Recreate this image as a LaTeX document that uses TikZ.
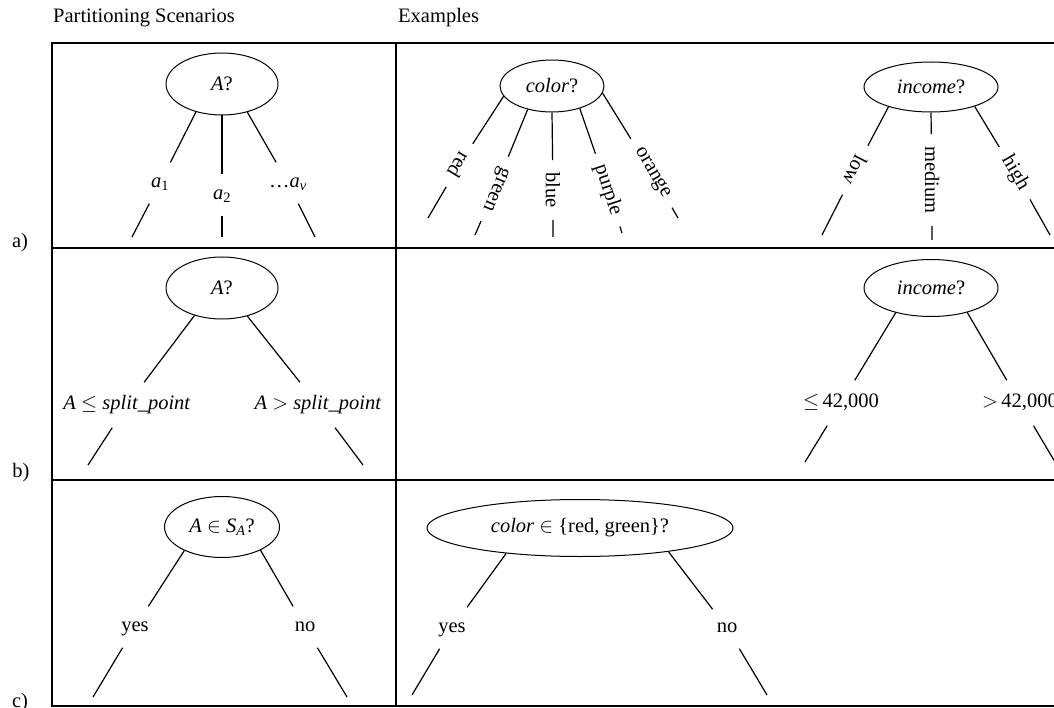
\documentclass[tikz,border=0pt]{standalone}
\usepackage{fontspec}
\setmainfont{Liberation Serif}
\usetikzlibrary{shapes.geometric}
\tikzset{
  test/.style={draw, ellipse, line width=1pt, inner sep=0pt},
  branch/.style={line width=1.2pt},
  lbl/.style={inner xsep=4pt, inner ysep=12pt, text height=13pt, text depth=4pt},
  rlbl/.style={inner xsep=12pt, inner ysep=2pt},
  grid/.style={line width=1.8pt},
}
\begin{document}
\begin{tikzpicture}[x=1pt,y=-1pt,font=\fontsize{20.5}{24}\selectfont]
\useasboundingbox (0,0) rectangle (1054,708);
\clip (0,0) rectangle (1054,708);

% table
\draw[grid] (52,43) rectangle (1075,706);
\draw[grid] (52,248) -- (1075,248);
\draw[grid] (52,480) -- (1075,480);
\draw[grid] (396,43) -- (396,706);

\node[anchor=west, inner sep=0pt] (hpart) at (53,18) {Partitioning Scenarios};
\node[anchor=west, inner sep=0pt] (hex) at (398,18) {Examples};
\node (ra) at (20,243) {a)};
\node (rb) at (21,473) {b)};
\node (rc) at (20,703) {c)};

% a) discrete
\node[test, minimum width=112pt, minimum height=62pt] (qa) at (222,84) {\textit{A}?};
\node[lbl] (la1) at (160,183) {\textit{a}\textsubscript{1}};
\node[lbl] (la2) at (222,195) {\textit{a}\textsubscript{2}};
\node[lbl] (lav) at (288,183) {\ldots\textit{a}\textsubscript{\textit{v}}};
\coordinate (ba1) at (132,237);
\coordinate (ba2) at (222,237);
\coordinate (bav) at (315,237);
\draw[branch] (qa.227) -- (la1) -- (ba1);
\draw[branch] (qa.270) -- (la2) -- (ba2);
\draw[branch] (qa.312) -- (lav) -- (bav);

\node[test, minimum width=104pt, minimum height=52pt] (qc) at (552,86) {\textit{color}?};
\node[rlbl, rotate=-121] (lred) at (459,165) {red};
\node[rlbl, rotate=-113] (lgreen) at (495,189) {green};
\node[rlbl, rotate=-90] (lblue) at (553,190) {blue};
\node[rlbl, rotate=-72] (lpurple) at (608,190) {purple};
\node[rlbl, rotate=-60] (lorange) at (652,173) {orange};
\coordinate (bred) at (428,218);
\coordinate (bgreen) at (475,235);
\coordinate (bblue) at (553,237);
\coordinate (bpurple) at (622,233);
\coordinate (borange) at (678,218);
\draw[branch] (qc.192) -- (lred) -- (bred);
\draw[branch] (qc.224) -- (lgreen) -- (bgreen);
\draw[branch] (qc.270) -- (lblue) -- (bblue);
\draw[branch] (qc.321) -- (lpurple) -- (bpurple);
\draw[branch] (qc.352) -- (lorange) -- (borange);

\node[test, minimum width=134pt, minimum height=50pt] (qi) at (931,87) {\textit{income}?};
\node[rlbl, rotate=-117] (llow) at (855,170) {low};
\node[rlbl, rotate=-90] (lmed) at (932,180) {medium};
\node[rlbl, rotate=-60] (lhigh) at (1015,173) {high};
\coordinate (blow) at (822,235);
\coordinate (bmed) at (932,240);
\coordinate (bhigh) at (1050,235);
\draw[branch] (qi.205) -- (llow) -- (blow);
\draw[branch] (qi.270) -- (lmed) -- (bmed);
\draw[branch] (qi.336) -- (lhigh) -- (bhigh);

% b) continuous
\node[test, minimum width=112pt, minimum height=62pt] (qb) at (222,288) {\textit{A}?};
\node[lbl, inner ysep=14pt] (lle) at (127,405) {\textit{A} $\leq$ \textit{split\_point}};
\node[lbl, inner ysep=14pt] (lgt) at (318,405) {\textit{A} $>$ \textit{split\_point}};
\coordinate (ble) at (88,465);
\coordinate (bgt) at (363,465);
\draw[branch] (qb.225) -- (lle) -- (ble);
\draw[branch] (qb.312) -- (lgt) -- (bgt);

\node[test, minimum width=134pt, minimum height=57pt] (qj) at (931,288) {\textit{income}?};
\node[lbl, inner ysep=14pt] (lj1) at (841,403) {$\leq$\,42,000};
\node[lbl, inner ysep=14pt] (lj2) at (1020,403) {$>$\,42,000};
\coordinate (bj1) at (805,462);
\coordinate (bj2) at (1058,467);
\draw[branch] (qj.215) -- (lj1) -- (bj1);
\draw[branch] (qj.326) -- (lj2) -- (bj2);

% c) binary
\node[test, minimum width=115pt, minimum height=61pt] (qs) at (222,527) {\textit{A} $\in$ \textit{S}\textsubscript{\textit{A}}?};
\node[lbl] (lsy) at (135,627) {yes};
\node[lbl] (lsn) at (305,627) {no};
\coordinate (bsy) at (93,697);
\coordinate (bsn) at (347,697);
\draw[branch] (qs.212) -- (lsy) -- (bsy);
\draw[branch] (qs.329) -- (lsn) -- (bsn);

\node[test, minimum width=306pt, minimum height=57pt] (qr) at (580,528) {\textit{color} $\in$ \{red, green\}?};
\node[lbl] (lry) at (452,628) {yes};
\node[lbl] (lrn) at (727,628) {no};
\coordinate (bry) at (412,695);
\coordinate (brn) at (767,695);
\draw[branch] (qr.199) -- (lry) -- (bry);
\draw[branch] (qr.345) -- (lrn) -- (brn);
\end{tikzpicture}
\end{document}
